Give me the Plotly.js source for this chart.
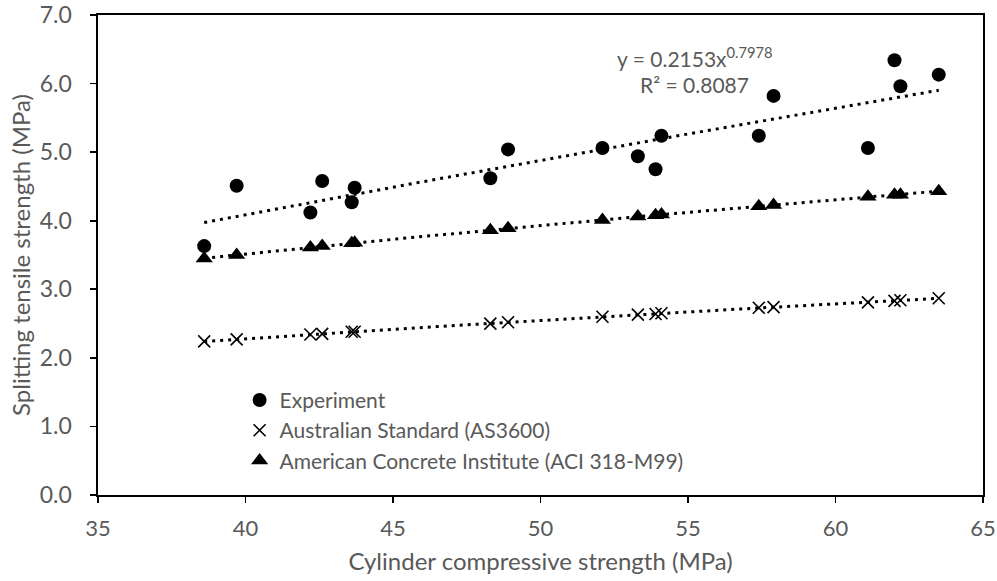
<!DOCTYPE html>
<html>
<head>
<meta charset="utf-8">
<script src="https://cdn.plot.ly/plotly-3.0.1.min.js"></script>
<style>html,body{margin:0;padding:0;background:#fff;}#chart{width:997px;height:581px;}</style>
</head>
<body>
<div id="chart"></div>
<script>
// Cylinder compressive strength (MPa)
const fc = [38.6, 39.7, 42.2, 42.6, 43.6, 43.7, 48.3, 48.9, 52.1, 53.3, 53.9, 54.1, 57.4, 57.9, 61.1, 62.0, 62.2, 63.5];
// Splitting tensile strength (MPa)
const experiment = [3.63, 4.51, 4.12, 4.58, 4.27, 4.48, 4.62, 5.04, 5.06, 4.94, 4.75, 5.24, 5.24, 5.82, 5.06, 6.34, 5.96, 6.13];
const as3600 = [2.24, 2.27, 2.34, 2.35, 2.38, 2.38, 2.50, 2.52, 2.60, 2.63, 2.64, 2.65, 2.73, 2.74, 2.81, 2.83, 2.84, 2.87];
const aci = [3.45, 3.50, 3.61, 3.63, 3.67, 3.68, 3.86, 3.89, 4.01, 4.06, 4.08, 4.09, 4.21, 4.23, 4.35, 4.38, 4.38, 4.43];
const seriesNames = ["Experiment", "Australian Standard (AS3600)", "American Concrete Institute (ACI 318-M99)"];
const equationText = "y = 0.2153x<sup>0.7978</sup>";
const r2Text = "R² = 0.8087";
const xTickVals = [35, 40, 45, 50, 55, 60, 65];
const yTickVals = [0, 1, 2, 3, 4, 5, 6, 7];

// power-law least-squares fit (as Excel's power trendline)
function powerFit(xs, ys) {
  const n = xs.length;
  let sx = 0, sy = 0, sxx = 0, sxy = 0;
  for (let i = 0; i < n; i++) {
    const lx = Math.log(xs[i]), ly = Math.log(ys[i]);
    sx += lx; sy += ly; sxx += lx * lx; sxy += lx * ly;
  }
  const b = (n * sxy - sx * sy) / (n * sxx - sx * sx);
  const a = Math.exp((sy - b * sx) / n);
  const xmin = Math.min(...xs), xmax = Math.max(...xs);
  const tx = [], ty = [];
  for (let k = 0; k <= 60; k++) {
    const x = xmin + (xmax - xmin) * k / 60;
    tx.push(x); ty.push(a * Math.pow(x, b));
  }
  return {x: tx, y: ty};
}

const dotLine = {color: '#000', width: 3, dash: '3px,5px'};
const traces = [];
[experiment, as3600, aci].forEach(ys => {
  const t = powerFit(fc, ys);
  traces.push({x: t.x, y: t.y, mode: 'lines', line: dotLine, showlegend: false, hoverinfo: 'skip'});
});
traces.push({x: fc, y: experiment, name: seriesNames[0], mode: 'markers', type: 'scatter',
  marker: {symbol: 'circle', size: 14, color: '#000'}});
traces.push({x: fc, y: as3600, name: seriesNames[1], mode: 'markers', type: 'scatter',
  marker: {symbol: 'x-thin-open', size: 12, color: '#000', line: {color: '#000', width: 1.6}}});
traces.push({x: fc, y: aci, name: seriesNames[2], mode: 'markers', type: 'scatter',
  marker: {symbol: 'triangle-up', size: 15, color: '#000'}});

const fontFam = 'Lato, "Open Sans", sans-serif';
const grey = '#595959';
const layout = {
  width: 997, height: 581,
  margin: {l: 98, r: 14, t: 15, b: 86},
  paper_bgcolor: '#fff', plot_bgcolor: '#fff',
  font: {family: fontFam, color: grey, size: 20},
  showlegend: true,
  legend: {x: 0.16, y: 0.24, xanchor: 'left', yanchor: 'top', bgcolor: 'rgba(0,0,0,0)',
    font: {family: fontFam, size: 21, color: grey}, itemwidth: 30, tracegroupgap: 0},
  xaxis: {
    range: [35, 65], tickvals: xTickVals, ticktext: xTickVals.map(String),
    showgrid: false, zeroline: false,
    showline: true, linecolor: '#000', linewidth: 1.6, mirror: true,
    ticks: 'outside', ticklen: 6, tickwidth: 1.6, tickcolor: '#000',
    ticklabelstandoff: 7,
    tickfont: {size: 22, color: grey},
    title: {text: 'Cylinder compressive strength (MPa)', font: {size: 24, color: grey}, standoff: 13}
  },
  yaxis: {
    range: [0, 7], tickvals: yTickVals, ticktext: yTickVals.map(v => v.toFixed(1)),
    showgrid: false, zeroline: false,
    showline: true, linecolor: '#000', linewidth: 1.6, mirror: true,
    ticks: 'outside', ticklen: 6, tickwidth: 1.6, tickcolor: '#000',
    ticklabelstandoff: 14,
    tickfont: {size: 23, color: grey},
    title: {text: 'Splitting tensile strength (MPa)', font: {size: 24, color: grey}, standoff: 2}
  },
  annotations: [
    {x: 55.23, y: 6.39, xref: 'x', yref: 'y', text: equationText, showarrow: false,
      font: {size: 21, color: grey, family: fontFam}},
    {x: 55.23, y: 5.98, xref: 'x', yref: 'y', text: r2Text, showarrow: false,
      font: {size: 21, color: grey, family: fontFam}}
  ]
};
Plotly.newPlot('chart', traces, layout, {displayModeBar: false, staticPlot: true});
</script>
</body>
</html>
